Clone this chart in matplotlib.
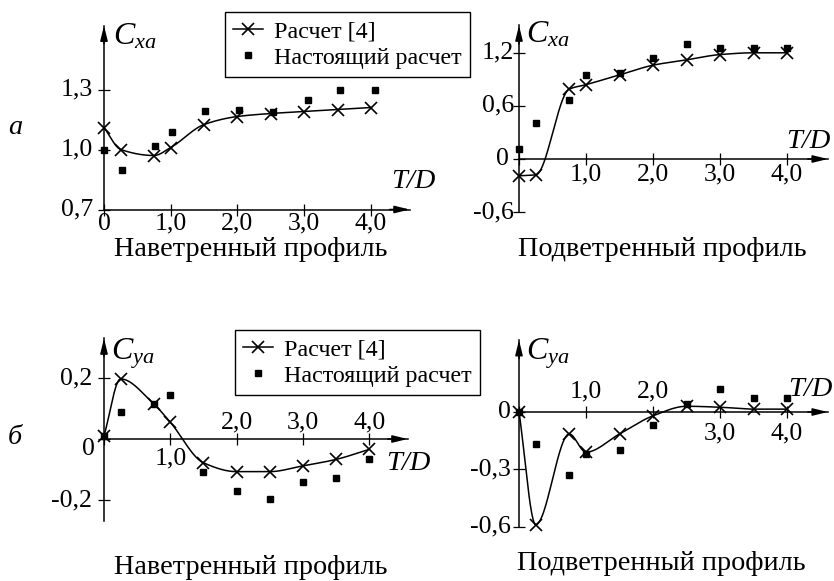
import numpy as np
import matplotlib.pyplot as plt
from matplotlib.lines import Line2D
from matplotlib.transforms import offset_copy

plt.rcParams['font.family'] = ['Liberation Serif', 'DejaVu Serif']
plt.rcParams['mathtext.fontset'] = 'custom'
plt.rcParams['mathtext.rm'] = 'Liberation Serif'
plt.rcParams['mathtext.it'] = 'Liberation Serif:italic'

W, H = 834, 581

# T/D values
td = [0, 0.25, 0.75, 1.0, 1.5, 2.0, 2.5, 3.0, 3.5, 4.0]

# а) Cxa, наветренный профиль
cxa_w_ref = [1.11, 1.00, 0.97, 1.01, 1.125, 1.165, 1.18, 1.19, 1.20, 1.21]
cxa_w_x = [0, 0.27, 0.77, 1.02, 1.52, 2.02, 2.53, 3.05, 3.54, 4.06]
cxa_w_now = [1.00, 0.90, 1.02, 1.09, 1.195, 1.20, 1.19, 1.25, 1.30, 1.30]

# а) Cxa, подветренный профиль
cxa_l_ref = [-0.19, -0.18, 0.79, 0.84, 0.95, 1.06, 1.12, 1.18, 1.20, 1.20]
cxa_l_now = [0.11, 0.41, 0.67, 0.95, 0.97, 1.14, 1.30, 1.25, 1.25, 1.25]

# б) Cya, наветренный профиль
cya_w_ref = [0.01, 0.197, 0.115, 0.055, -0.078, -0.107, -0.107, -0.088, -0.067, -0.034]
cya_w_now = [0.01, 0.09, 0.115, 0.145, -0.107, -0.17, -0.197, -0.14, -0.128, -0.067]

# б) Cya, подветренный профиль
cya_l_ref = [0.0, -0.59, -0.115, -0.21, -0.115, -0.02, 0.03, 0.025, 0.015, 0.015]
cya_l_now = [0.0, -0.17, -0.33, -0.22, -0.20, -0.07, 0.04, 0.12, 0.075, 0.075]

TICK_FS = 18.5
SUB_FS = 20.3


def pchip(x, y, n=400):
    # monotone cubic curve through the read points (for drawing only)
    x = np.asarray(x, float)
    y = np.asarray(y, float)
    h = np.diff(x)
    d = np.diff(y) / h
    m = np.zeros_like(y)
    for k in range(1, len(x) - 1):
        if d[k - 1] * d[k] > 0:
            w1 = 2 * h[k] + h[k - 1]
            w2 = h[k] + 2 * h[k - 1]
            m[k] = (w1 + w2) / (w1 / d[k - 1] + w2 / d[k])
    m[0] = d[0]
    m[-1] = d[-1]
    xs = np.linspace(x[0], x[-1], n)
    idx = np.clip(np.searchsorted(x, xs) - 1, 0, len(h) - 1)
    t = (xs - x[idx]) / h[idx]
    h00 = 2 * t**3 - 3 * t**2 + 1
    h10 = t**3 - 2 * t**2 + t
    h01 = -2 * t**3 + 3 * t**2
    h11 = t**3 - t**2
    ys = h00 * y[idx] + h10 * h[idx] * m[idx] + h01 * y[idx + 1] + h11 * h[idx] * m[idx + 1]
    return xs, ys


def make_ax(fig, x0, y0, sx, sy, xlim, ylim):
    left = x0 + xlim[0] * sx
    width = (xlim[1] - xlim[0]) * sx
    top = y0 - ylim[1] * sy
    height = (ylim[1] - ylim[0]) * sy
    ax = fig.add_axes([left / W, (H - top - height) / H, width / W, height / H])
    ax.set_xlim(xlim)
    ax.set_ylim(ylim)
    ax.patch.set_visible(False)
    return ax


def style_axes(ax, xbase, xbounds, ybounds, yticks):
    for s in ['top', 'right']:
        ax.spines[s].set_visible(False)
    ax.spines['left'].set_position(('data', 0))
    ax.spines['bottom'].set_position(('data', xbase))
    ax.spines['left'].set_bounds(*ybounds)
    ax.spines['bottom'].set_bounds(*xbounds)
    ax.set_xticks([0, 1, 2, 3, 4])
    ax.set_yticks(yticks)
    ax.tick_params(direction='inout', length=9, width=0.9,
                   labelbottom=False, labelleft=False)
    for s in ['left', 'bottom']:
        ax.spines[s].set_linewidth(1.1)
    arr = dict(arrowstyle='-|>,head_width=0.22,head_length=0.9', color='black', lw=1.1,
               shrinkA=0, shrinkB=0)
    ax.annotate('', xy=(xbounds[1], xbase), xytext=(xbounds[1] - 0.3, xbase),
                arrowprops=arr, annotation_clip=False)
    ax.annotate('', xy=(0, ybounds[1]), xytext=(0, ybounds[1] - 0.1 * (ybounds[1] - ybounds[0])),
                arrowprops=arr, annotation_clip=False)


def label(ax, x, y, s, dx, dy, ha='center', va='center', size=TICK_FS, **kw):
    tr = offset_copy(ax.transData, fig=ax.figure, x=dx, y=-dy, units='dots')
    ax.text(x, y, s, transform=tr, ha=ha, va=va, fontsize=size, **kw)


def fmt(v):
    return ('%.1f' % v).replace('.', ',') if v != 0 else '0'


def draw(ax, xr, yr, xn, yn):
    xs, ys = pchip(xr, yr)
    ax.plot(xs, ys, color='black', lw=1.1)
    ax.plot(xr, yr, ls='none', marker='x', ms=8, mew=1.2, color='black')
    ax.plot(xn, yn, ls='none', marker='s', ms=5, color='black')


fig = plt.figure(figsize=(W / 100, H / 100), dpi=100)
ylab = dict(size=23)
tdlab = dict(style='italic', size=20.5)

# panel 1
ax1 = make_ax(fig, 104, 349.5, 66.75, 200, (-0.35, 4.7), (0.55, 1.65))
style_axes(ax1, 0.7, (0, 4.58), (0.7, 1.62), [0.7, 1.0, 1.3])
draw(ax1, td, cxa_w_ref, cxa_w_x, cxa_w_now)
for v in [0.7, 1.0, 1.3]:
    label(ax1, 0, v, fmt(v), -11, 0, ha='right')
for v in [0, 1, 2, 3, 4]:
    label(ax1, v, 0.7, fmt(v), 0, 14)
label(ax1, 0, 1.62, '$C_{xa}$', 9, 11, ha='left', **ylab)
label(ax1, 4.58, 0.7, 'T/D', 4, -28, ha='center', **tdlab)

# panel 2
ax2 = make_ax(fig, 519, 159, 67, 88.5, (-0.35, 4.7), (-0.75, 1.55))
style_axes(ax2, 0, (0, 4.61), (-0.6, 1.51), [-0.6, 0, 0.6, 1.2])
draw(ax2, td, cxa_l_ref, td, cxa_l_now)
for v in [-0.6, 0, 0.6, 1.2]:
    label(ax2, 0, v, fmt(v), -5 if v != 0 else -10, 0, ha='right')
for v in [1, 2, 3, 4]:
    label(ax2, v, 0, fmt(v), 0, 15)
label(ax2, 0, 1.51, '$C_{xa}$', 7, 9, ha='left', **ylab)
label(ax2, 4.61, 0, 'T/D', -20, -17, ha='center', **tdlab)

# panel 3
ax3 = make_ax(fig, 104, 439, 66.3, 305, (-0.35, 4.7), (-0.3, 0.36))
style_axes(ax3, 0, (0, 4.58), (-0.27, 0.33), [-0.2, 0, 0.2])
draw(ax3, td, cya_w_ref, td, cya_w_now)
for v in [-0.2, 0.2]:
    label(ax3, 0, v, fmt(v), -12, 0, ha='right')
label(ax3, 0, 0, '0', -16, 10, ha='center')
label(ax3, 1, 0, fmt(1), 0, 19)
for v in [2, 3, 4]:
    label(ax3, v, 0, fmt(v), 0, -17)
label(ax3, 4.58, 0, 'T/D', 1, 25, ha='center', **tdlab)
label(ax3, 0, 0.33, '$C_{ya}$', 7, 15, ha='left', **ylab)

# panel 4
ax4 = make_ax(fig, 519, 412, 67, 191, (-0.35, 4.7), (-0.7, 0.42))
style_axes(ax4, 0, (0, 4.61), (-0.6, 0.377), [-0.6, -0.3, 0])
draw(ax4, td, cya_l_ref, td, cya_l_now)
for v in [-0.6, -0.3, 0]:
    label(ax4, 0, v, fmt(v), -8, 0, ha='right')
for v in [1, 2]:
    label(ax4, v, 0, fmt(v), 0, -21)
for v in [3, 4]:
    label(ax4, v, 0, fmt(v), 0, 21)
label(ax4, 4.61, 0, 'T/D', -18, -22, ha='center', **tdlab)
label(ax4, 0, 0.377, '$C_{ya}$', 7, 14, ha='left', **ylab)

# legends
handles = [Line2D([], [], color='black', lw=1.1, marker='x', ms=8, mew=1.2),
           Line2D([], [], ls='none', marker='s', ms=5, color='black')]
names = ['Расчет [4]', 'Настоящий расчет']
for lx, ly in [(225, 12), (235, 330)]:
    leg = fig.legend(handles, names, loc='upper left', bbox_to_anchor=(lx / W, 1 - ly / H),
                     fontsize=17.3, frameon=True, fancybox=False, framealpha=1,
                     edgecolor='black', borderaxespad=0, handlelength=1.25,
                     handletextpad=0.45, labelspacing=0.2, borderpad=0.35)
    leg.get_frame().set_linewidth(1.0)

# subtitles and row labels
sub = dict(fontsize=SUB_FS, ha='center', va='center')
fig.text(251 / W, 1 - 250 / H, 'Наветренный профиль', **sub)
fig.text(662 / W, 1 - 250 / H, 'Подветренный профиль', **sub)
fig.text(251 / W, 1 - 568 / H, 'Наветренный профиль', **sub)
fig.text(661 / W, 1 - 564 / H, 'Подветренный профиль', **sub)
fig.text(15 / W, 1 - 128 / H, 'а', fontsize=SUB_FS, style='italic', ha='center', va='center')
fig.text(15 / W, 1 - 437 / H, 'б', fontsize=SUB_FS, style='italic', ha='center', va='center')

fig.savefig('out.png', dpi=100)
